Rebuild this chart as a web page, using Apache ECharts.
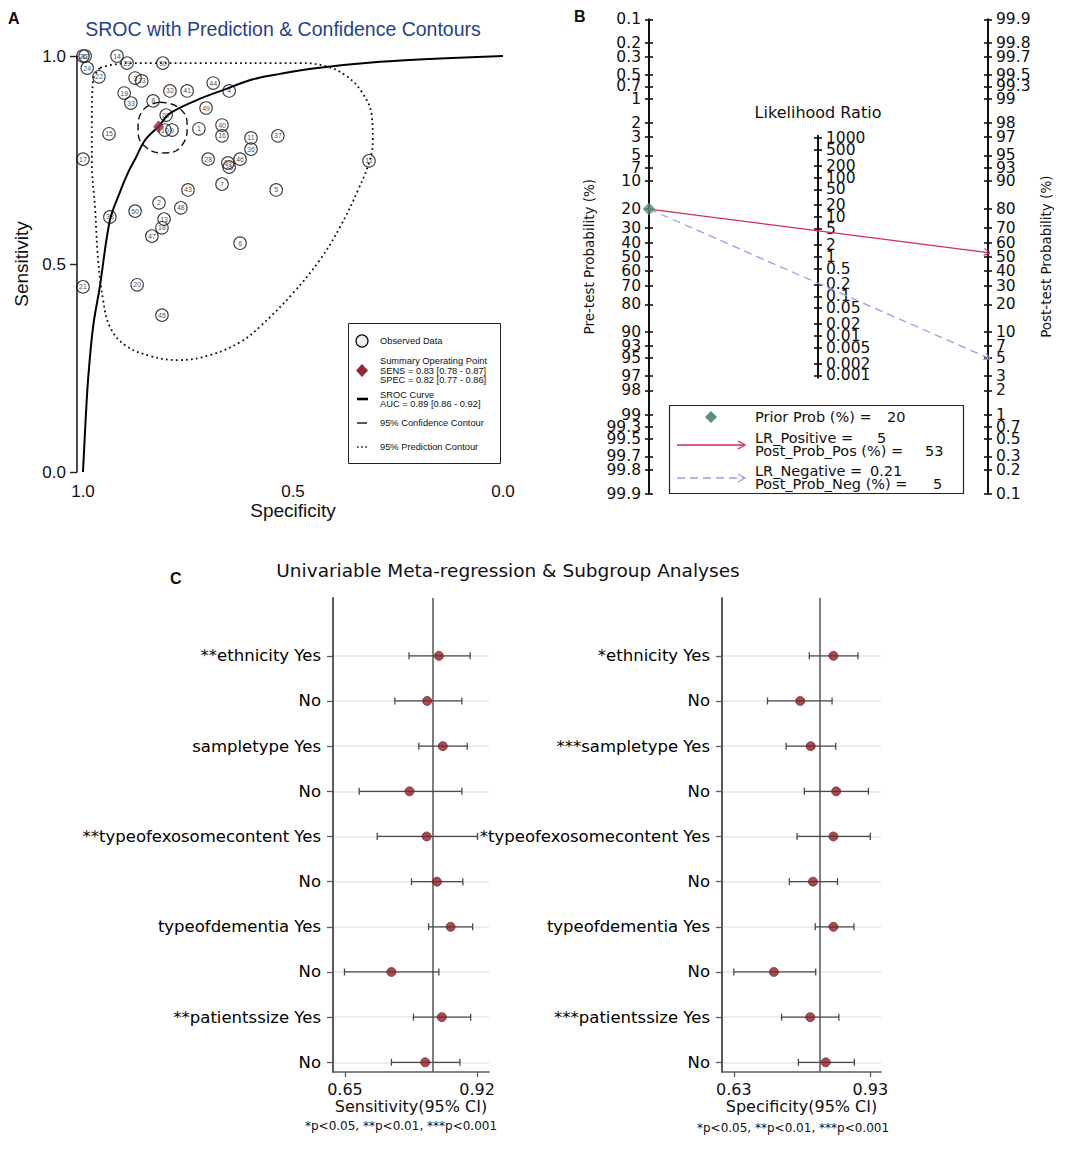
<!DOCTYPE html>
<html><head><meta charset="utf-8">
<script src="https://cdn.jsdelivr.net/npm/echarts@6.0.0/dist/echarts.min.js"></script>
<style>html,body{margin:0;padding:0;background:#fff}#c{width:1084px;height:1158px}</style>
</head><body><div id="c"></div>
<script>
const FA = '"Liberation Sans", Arial, sans-serif';
const FB = '"DejaVu Sans", Verdana, sans-serif';

// ---------------- Panel A: SROC ----------------
const studyIds  = ['26','42','14','29','30','24','22','3','23','44','4','32','41','19','33','8','49','27','10','9','1','40','16','15','11','36','17','28','46','39','35','37','12','7','43','5','2','50','48','38','13','18','47','6','21','20','45'];
const studySpec = [1.000,0.995,0.919,0.895,0.810,0.990,0.962,0.876,0.860,0.690,0.652,0.793,0.752,0.902,0.886,0.833,0.707,0.802,0.805,0.788,0.724,0.669,0.669,0.938,0.600,0.600,1.000,0.702,0.626,0.655,0.652,0.536,0.319,0.669,0.750,0.540,0.819,0.876,0.767,0.936,0.807,0.812,0.836,0.626,1.000,0.871,0.812];
const studySens = [1.000,1.000,1.000,0.983,0.983,0.971,0.950,0.947,0.940,0.935,0.916,0.916,0.916,0.911,0.887,0.892,0.875,0.858,0.822,0.822,0.825,0.834,0.808,0.813,0.803,0.776,0.752,0.752,0.752,0.743,0.733,0.808,0.748,0.692,0.678,0.678,0.647,0.627,0.635,0.613,0.608,0.587,0.567,0.550,0.445,0.450,0.377];
const srocSpec = [1.000,0.995,0.988,0.976,0.960,0.936,0.914,0.893,0.876,0.852,0.819,0.793,0.729,0.667,0.595,0.531,0.452,0.293,0.150,0.000];
const srocSens = [0.000,0.101,0.221,0.349,0.445,0.605,0.668,0.719,0.752,0.798,0.832,0.862,0.894,0.918,0.944,0.957,0.970,0.986,0.994,1.000];
const confSpec = [0.817,0.774,0.752,0.764,0.805,0.848,0.869,0.857,0.817];
const confSens = [0.889,0.877,0.834,0.786,0.767,0.779,0.822,0.870,0.889];
const predSpec = [0.960,0.976,0.979,0.979,0.971,0.964,0.952,0.936,0.900,0.840,0.774,0.698,0.626,0.579,0.500,0.436,0.388,0.345,0.317,0.310,0.312,0.336,0.376,0.424,0.483,0.721,0.888,0.936,0.960];
const predSens = [0.971,0.942,0.846,0.750,0.630,0.510,0.413,0.349,0.305,0.279,0.269,0.281,0.312,0.349,0.430,0.510,0.589,0.678,0.750,0.798,0.853,0.913,0.954,0.976,0.983,0.983,0.983,0.978,0.971];
const summarySens = 0.83, summarySensCI = [0.78, 0.87];
const summarySpec = 0.82, summarySpecCI = [0.77, 0.86];
const aucVal = 0.89, aucCI = [0.86, 0.92];
const aTicks = [0, 0.5, 1];

// ---------------- Panel B: Fagan ----------------
const priorProb = 20, lrPositive = 5, postProbPos = 53, lrNegative = 0.21, postProbNeg = 5;
const probTicks = [0.1,0.2,0.3,0.5,0.7,1,2,3,5,7,10,20,30,40,50,60,70,80,90,93,95,97,98,99,99.3,99.5,99.7,99.8,99.9];
const lrTicks = [1000,500,200,100,50,20,10,5,2,1,0.5,0.2,0.1,0.05,0.02,0.01,0.005,0.002,0.001];

// ---------------- Panel C: forest ----------------
const sensLabels = ['**ethnicity Yes','No','sampletype Yes','No','**typeofexosomecontent Yes','No','typeofdementia Yes','No','**patientssize Yes','No'];
const sensPoint = [0.842,0.818,0.850,0.782,0.817,0.838,0.866,0.745,0.848,0.814];
const sensLow   = [0.781,0.752,0.801,0.679,0.716,0.786,0.821,0.649,0.790,0.745];
const sensHigh  = [0.906,0.889,0.900,0.889,0.921,0.891,0.911,0.842,0.907,0.885];
const sensPooled = 0.834;
const sensTicks = [0.65, 0.92];
const specLabels = ['*ethnicity Yes','No','***sampletype Yes','No','*typeofexosomecontent Yes','No','typeofdementia Yes','No','***patientssize Yes','No'];
const specPoint = [0.849,0.776,0.799,0.855,0.849,0.804,0.849,0.718,0.798,0.832];
const specLow   = [0.796,0.704,0.745,0.785,0.769,0.752,0.809,0.630,0.735,0.772];
const specHigh  = [0.903,0.846,0.854,0.926,0.930,0.858,0.894,0.810,0.861,0.895];
const specPooled = 0.816;
const specTicks = [0.63, 0.93];
const pNote = '*p<0.05, **p<0.01, ***p<0.001';

// ---------------- helpers ----------------
function logit(p){ return Math.log(p / (100 - p)); }
function labelOf(list, f, v){ for (const t of list){ if (Math.abs(f(t) - v) < 1e-6) return String(t); } return ''; }
const LMAX = logit(99.9) + 1e-9, LMIN = logit(0.1) - 1e-9;
const CHEVRON = 'path://M0,10 L5,0 L10,10 L8.4,10 L5,3 L1.6,10 Z';
const rowIdx = sensLabels.map((_, i) => i + 1);
const LR_PAD = 0.06;   // LR axis: 39.57 px per decade, 1000 at y=138

function txt(x, y, text, font, opts){
  opts = opts || {};
  return {type:'text', x:x, y:y, z:10,
    style:{text:text, font:font, fill: opts.fill || '#111',
      align: opts.align || 'left', textAlign: opts.align || 'left',
      verticalAlign:'middle', textVerticalAlign:'middle'}};
}

function errRender(params, api){
  const y = api.value(0), lo = api.value(1), hi = api.value(2);
  const p1 = api.coord([lo, y]), p2 = api.coord([hi, y]);
  const st = {stroke:'#4a4a4a', lineWidth:1.3};
  return {type:'group', children:[
    {type:'line', shape:{x1:p1[0], y1:p1[1], x2:p2[0], y2:p2[1]}, style:st},
    {type:'line', shape:{x1:p1[0], y1:p1[1]-3.5, x2:p1[0], y2:p1[1]+3.5}, style:st},
    {type:'line', shape:{x1:p2[0], y1:p2[1]-3.5, x2:p2[0], y2:p2[1]+3.5}, style:st}
  ]};
}

function probAxis(pos, inverse, withLabels, name, nameGap){
  const vals = probTicks.map(logit);
  return {
    gridIndex:1, type:'value', position:pos, inverse:inverse, min:LMIN, max:LMAX,
    axisLine:{show:withLabels, onZero:false, lineStyle:{color:'#111', width:2}},
    axisTick:{show:true, inside:!withLabels, customValues:vals, length:4, lineStyle:{color:'#111', width:1.6}},
    axisLabel:{show:withLabels, customValues:vals, margin:8, fontSize:15.5, fontFamily:FB, color:'#111',
      showMinLabel:true, showMaxLabel:true,
      formatter: v => labelOf(probTicks, logit, v)},
    splitLine:{show:false},
    name: withLabels ? name : '', nameLocation:'middle', nameGap:nameGap, nameRotate:90,
    nameTextStyle:{fontSize:13.5, fontFamily:FB, color:'#111'}
  };
}
// mode: 'main' (line, outer ticks, labels of even index), 'inner' (inner ticks), 'alt' (labels of odd index)
function lrAxis(mode){
  const allVals = lrTicks.map(Math.log10);
  const labVals = mode === 'main' ? allVals.filter((v, i) => i % 2 === 0)
                 : mode === 'alt' ? allVals.filter((v, i) => i % 2 === 1) : allVals;
  return {
    gridIndex:2, type:'value', position:'left', min:-3-LR_PAD, max:3+LR_PAD,
    axisLine:{show:mode === 'main', onZero:false, lineStyle:{color:'#111', width:2}},
    axisTick:{show:mode !== 'alt', inside:mode === 'inner', customValues:allVals, length:4, lineStyle:{color:'#111', width:1.6}},
    axisLabel:{show:mode !== 'inner', inside:true, customValues:labVals, margin:8, fontSize:15.5, fontFamily:FB, color:'#111',
      showMinLabel:true, showMaxLabel:true,
      formatter: v => labelOf(lrTicks, Math.log10, v)},
    splitLine:{show:false}
  };
}
function rowAxis(gi, labels){
  return {
    gridIndex:gi, type:'value', inverse:true, min:-0.28, max:10.215,
    axisLine:{show:true, onZero:false, lineStyle:{color:'#5a5a5a', width:2}},
    axisTick:{show:true, customValues:rowIdx, length:6, lineStyle:{color:'#5a5a5a', width:1.3}},
    axisLabel:{customValues:rowIdx, margin:12, fontSize:16.5, fontFamily:FB, color:'#000',
      formatter: v => labels[Math.round(v) - 1] || ''},
    splitLine:{show:true, lineStyle:{color:'#e6eef4', width:2}}
  };
}
function valAxis(gi, min, max, ticks, name){
  return {
    gridIndex:gi, type:'value', min:min, max:max,
    axisLine:{show:true, onZero:false, lineStyle:{color:'#5a5a5a', width:1.5}},
    axisTick:{show:true, customValues:ticks, length:5, lineStyle:{color:'#5a5a5a', width:1.3}},
    axisLabel:{customValues:ticks, margin:9, fontSize:16, fontFamily:FB, color:'#111'},
    splitLine:{show:false},
    name:name, nameLocation:'middle', nameGap:26, nameTextStyle:{fontSize:16, fontFamily:FB, color:'#111'}
  };
}
function forest(xi, yi, pt, lo, hi, pooled){
  return [
    {type:'custom', xAxisIndex:xi, yAxisIndex:yi, renderItem:errRender, encode:{x:[1,2], y:0}, z:3, silent:true,
      data: pt.map((v, i) => [i + 1, lo[i], hi[i]])},
    {type:'scatter', xAxisIndex:xi, yAxisIndex:yi, symbolSize:9, z:4, clip:false,
      itemStyle:{color:'#8c2128', borderColor:'#6b1419', borderWidth:0.8},
      data: pt.map((v, i) => [v, i + 1]),
      markLine:{silent:true, symbol:'none', label:{show:false}, z:2,
        lineStyle:{color:'#555', width:1.5, type:'solid'}, data:[{xAxis:pooled}]}}
  ];
}

const chart = echarts.init(document.getElementById('c'), null, {renderer:'svg', width:1084, height:1158});

const option = {
  animation:false,
  backgroundColor:'#fff',
  textStyle:{fontFamily:FA},
  grid:[
    {left:83, top:56, width:420, height:416, outerBoundsMode:'none'},
    {left:649, top:19.3, width:339, height:474.8, outerBoundsMode:'none'},
    {left:818, top:138 - LR_PAD*39.57, width:1, height:(6 + 2*LR_PAD)*39.57, outerBoundsMode:'none'},
    {left:333, top:598, width:156, height:474, outerBoundsMode:'none'},
    {left:722, top:598, width:159, height:474, outerBoundsMode:'none'}
  ],
  xAxis:[
    {gridIndex:0, type:'value', min:0, max:1, inverse:true,
      axisLine:{show:false, onZero:false}, axisTick:{show:false},
      axisLabel:{customValues:aTicks, formatter:v => v.toFixed(1), margin:11, fontSize:17, color:'#111'},
      splitLine:{show:false},
      name:'Specificity', nameLocation:'middle', nameGap:29, nameTextStyle:{fontSize:19, color:'#111'}},
    {gridIndex:1, type:'value', min:0, max:1, show:false},
    {gridIndex:2, type:'value', min:0, max:1, show:false},
    valAxis(3, 0.6255, 0.9445, sensTicks, 'Sensitivity(95% CI)'),
    valAxis(4, 0.604, 0.9536, specTicks, 'Specificity(95% CI)')
  ],
  yAxis:[
    {gridIndex:0, type:'value', min:0, max:1, offset:6,
      axisLine:{show:true, onZero:false, lineStyle:{color:'#222', width:1.6}},
      axisTick:{show:true, customValues:aTicks, length:7, lineStyle:{color:'#222', width:1.4}},
      axisLabel:{customValues:aTicks, formatter:v => v.toFixed(1), margin:11, fontSize:17, color:'#111'},
      splitLine:{show:false},
      name:'Sensitivity', nameLocation:'middle', nameGap:46, nameRotate:90, nameTextStyle:{fontSize:19, color:'#111'}},
    probAxis('left', true, true, 'Pre-test Probability (%)', 53),
    probAxis('left', true, false, '', 0),
    probAxis('right', false, true, 'Post-test Probability (%)', 51),
    probAxis('right', false, false, '', 0),
    lrAxis('main'),
    lrAxis('inner'),
    lrAxis('alt'),
    rowAxis(3, sensLabels),
    rowAxis(4, specLabels)
  ],
  series:[
    // Panel A
    {type:'scatter', xAxisIndex:0, yAxisIndex:0, symbol:'circle', symbolSize:12.5, clip:false, z:2,
      itemStyle:{color:'rgba(255,255,255,0)', borderColor:'#111', borderWidth:1.1},
      label:{show:true, position:'inside', formatter:'{b}', fontSize:7, color:'#222', fontFamily:FA,
        textBorderWidth:0, textBorderColor:'transparent'},
      data: studyIds.map((id, i) => ({name:id, value:[studySpec[i], studySens[i]]}))},
    {type:'line', xAxisIndex:0, yAxisIndex:0, symbol:'none', smooth:0.35, clip:false, z:3,
      lineStyle:{color:'#000', width:2},
      data: srocSpec.map((s, i) => [s, srocSens[i]])},
    {type:'line', xAxisIndex:0, yAxisIndex:0, symbol:'none', smooth:0.5, clip:false, z:3,
      lineStyle:{color:'#111', width:1.4, type:[7,4]},
      data: confSpec.map((s, i) => [s, confSens[i]])},
    {type:'line', xAxisIndex:0, yAxisIndex:0, symbol:'none', smooth:0.4, clip:false, z:3,
      lineStyle:{color:'#111', width:1.8, type:[1.8,3.2]},
      data: predSpec.map((s, i) => [s, predSens[i]])},
    {type:'scatter', xAxisIndex:0, yAxisIndex:0, symbol:'diamond', symbolSize:[11,13], clip:false, z:5,
      itemStyle:{color:'#8d2a33'}, data:[[summarySpec, summarySens]]},
    // Panel B
    {type:'lines', coordinateSystem:'cartesian2d', xAxisIndex:1, yAxisIndex:1, z:3,
      symbol:['none', CHEVRON], symbolSize:[7,8],
      lineStyle:{color:'#d42c55', width:1.3, type:'solid', curveness:0, opacity:1},
      data:[{coords:[[0, logit(priorProb)], [1, -logit(postProbPos)]]}]},
    {type:'lines', coordinateSystem:'cartesian2d', xAxisIndex:1, yAxisIndex:1, z:3,
      symbol:['none', CHEVRON], symbolSize:[7,8],
      lineStyle:{color:'#9c9ce8', width:1.3, type:[8,5], curveness:0, opacity:1},
      data:[{coords:[[0, logit(priorProb)], [1, -logit(postProbNeg)]]}]},
    {type:'scatter', xAxisIndex:1, yAxisIndex:1, symbol:'diamond', symbolSize:[12,12], clip:false, z:5,
      itemStyle:{color:'#5d8c7a', borderColor:'#4a7565', borderWidth:0.6}, data:[[0, logit(priorProb)]]},
    // Panel C
    ...forest(3, 8, sensPoint, sensLow, sensHigh, sensPooled),
    ...forest(4, 9, specPoint, specLow, specHigh, specPooled)
  ],
  graphic:[
    txt(8, 18, 'A', 'bold 16px ' + FA),
    txt(283, 29, 'SROC with Prediction & Confidence Contours', '19.5px ' + FA, {align:'center', fill:'#243f8e'}),
    // legend A
    {type:'rect', z:9, shape:{x:348.5, y:323.5, width:152, height:140}, style:{fill:'#fff', stroke:'#222', lineWidth:1}},
    {type:'circle', z:10, shape:{cx:362, cy:341, r:6}, style:{fill:'#eee', stroke:'#000', lineWidth:1.2}},
    txt(380, 341, 'Observed Data', '9.3px ' + FA),
    {type:'polygon', z:10, shape:{points:[[362,364],[368,370.5],[362,377],[356,370.5]]}, style:{fill:'#8d2a33'}},
    txt(380, 361, 'Summary Operating Point', '9.3px ' + FA),
    txt(380, 370.5, 'SENS = ' + summarySens.toFixed(2) + ' [' + summarySensCI[0].toFixed(2) + ' - ' + summarySensCI[1].toFixed(2) + ']', '9.3px ' + FA),
    txt(380, 379.5, 'SPEC = ' + summarySpec.toFixed(2) + ' [' + summarySpecCI[0].toFixed(2) + ' - ' + summarySpecCI[1].toFixed(2) + ']', '9.3px ' + FA),
    {type:'line', z:10, shape:{x1:357, y1:399, x2:368, y2:399}, style:{stroke:'#000', lineWidth:2.6}},
    txt(380, 394.5, 'SROC Curve', '9.3px ' + FA),
    txt(380, 403.5, 'AUC = ' + aucVal.toFixed(2) + ' [' + aucCI[0].toFixed(2) + ' - ' + aucCI[1].toFixed(2) + ']', '9.3px ' + FA),
    {type:'line', z:10, shape:{x1:357, y1:423, x2:367, y2:423}, style:{stroke:'#222', lineWidth:1.5}},
    txt(380, 423, '95% Confidence Contour', '9.3px ' + FA),
    {type:'line', z:10, shape:{x1:357, y1:447, x2:369, y2:447}, style:{stroke:'#111', lineWidth:1.6, lineDash:[1.6,2.6]}},
    txt(380, 447, '95% Prediction Contour', '9.3px ' + FA),
    // Panel B texts
    txt(574, 16, 'B', 'bold 16px ' + FA),
    txt(818, 112, 'Likelihood Ratio', '16px ' + FB, {align:'center'}),
    {type:'rect', z:9, shape:{x:669.5, y:405.5, width:294, height:88}, style:{fill:'#fff', stroke:'#222', lineWidth:1.2}},
    {type:'polygon', z:10, shape:{points:[[711,411],[717,417],[711,423],[705,417]]}, style:{fill:'#5d8c7a'}},
    txt(755, 417, 'Prior Prob (%) =', '14.5px ' + FB),
    txt(887, 417, String(priorProb), '14.5px ' + FB),
    {type:'line', z:10, shape:{x1:677, y1:445, x2:745, y2:445}, style:{stroke:'#d42c55', lineWidth:1.3}},
    {type:'polyline', z:10, shape:{points:[[738,441],[745,445],[738,449]]}, style:{stroke:'#d42c55', lineWidth:1.3, fill:null}},
    txt(755, 438, 'LR_Positive =', '14.5px ' + FB),
    txt(877, 438, String(lrPositive), '14.5px ' + FB),
    txt(755, 451, 'Post_Prob_Pos (%) =', '14.5px ' + FB),
    txt(925, 451, String(postProbPos), '14.5px ' + FB),
    {type:'line', z:10, shape:{x1:677, y1:478, x2:745, y2:478}, style:{stroke:'#9c9ce8', lineWidth:1.3, lineDash:[8,5]}},
    {type:'polyline', z:10, shape:{points:[[738,474],[745,478],[738,482]]}, style:{stroke:'#9c9ce8', lineWidth:1.3, fill:null}},
    txt(755, 471, 'LR_Negative =', '14.5px ' + FB),
    txt(870, 471, String(lrNegative), '14.5px ' + FB),
    txt(755, 484, 'Post_Prob_Neg (%) =', '14.5px ' + FB),
    txt(933, 484, String(postProbNeg), '14.5px ' + FB),
    // Panel C texts
    txt(170, 578, 'C', 'bold 16px ' + FA),
    txt(508, 570, 'Univariable Meta-regression & Subgroup Analyses', '18.5px ' + FB, {align:'center'}),
    txt(401, 1126, pNote, '12px ' + FB, {align:'center'}),
    txt(793, 1128, pNote, '12px ' + FB, {align:'center'})
  ]
};
chart.setOption(option);
</script>
</body></html>
